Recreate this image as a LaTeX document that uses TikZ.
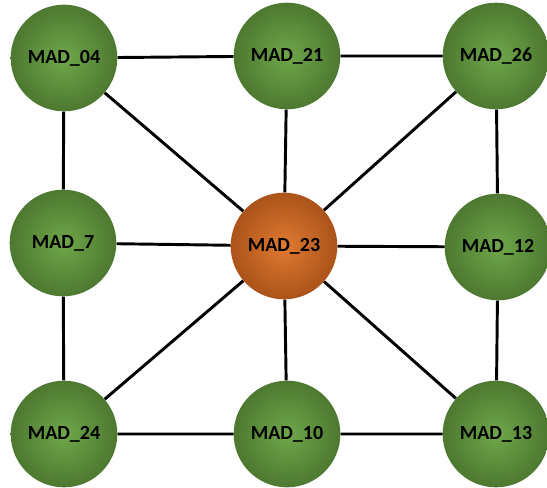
\documentclass[tikz,border=0pt]{standalone}
\usepackage{xcolor}
\usepackage{fontspec}
\setmainfont{Carlito}
\definecolor{mgreen}{HTML}{5A8E38}
\definecolor{mgreenlight}{HTML}{6FA64A}
\definecolor{morange}{HTML}{C9621E}
\definecolor{morangelight}{HTML}{E07A32}
\usepackage{tikz}

\begin{document}
\begin{tikzpicture}[x=0.75pt, y=-0.75pt,
        mad/.style={circle, minimum size=80pt, inner sep=0pt, shading=radial,
            inner color=mgreenlight, outer color=mgreen!85!black,
            font=\fontsize{15}{17}\selectfont\bfseries},
        hub/.style={mad, inner color=morangelight, outer color=morange!85!black},
        link/.style={line width=2.2pt, black}]
        \useasboundingbox (0, 0) rectangle (547, 488);
        \node[mad] (m04) at (64, 58) {MAD\_04};
        \node[mad] (m21) at (287, 56) {MAD\_21};
        \node[mad] (m26) at (496, 56) {MAD\_26};
        \node[mad] (m7) at (63, 243) {MAD\_7};
        \node[hub] (m23) at (284, 246) {MAD\_23};
        \node[mad] (m12) at (498, 247) {MAD\_12};
        \node[mad] (m24) at (64, 434) {MAD\_24};
        \node[mad] (m10) at (287, 434) {MAD\_10};
        \node[mad] (m13) at (496, 434) {MAD\_13};
        \draw[link] (m04) -- (m21) -- (m26) -- (m12) -- (m13) -- (m10) -- (m24) -- (m7) -- (m04);
        \foreach \n in {m04, m21, m26, m7, m12, m24, m10, m13}
            \draw[link] (m23) -- (\n);
    \end{tikzpicture}
\end{document}
